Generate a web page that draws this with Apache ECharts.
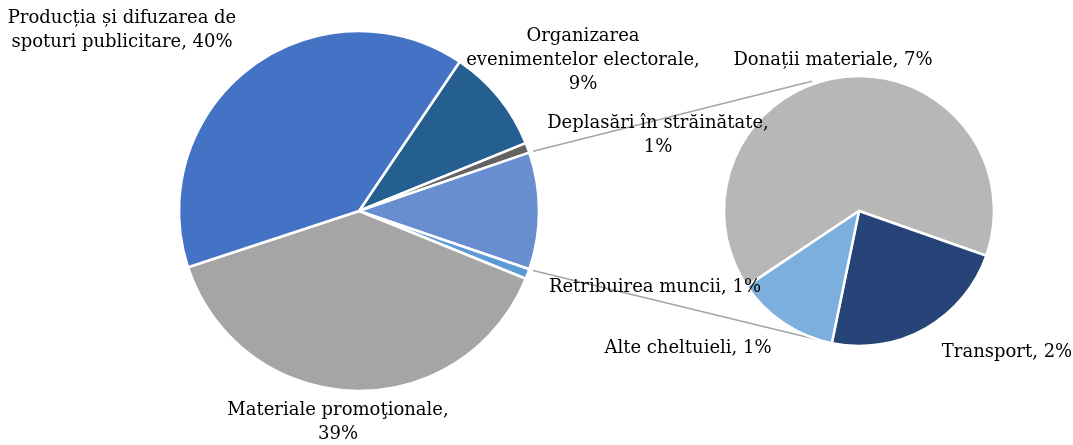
<!DOCTYPE html>
<html>
<head>
<meta charset="utf-8">
<script src="https://cdn.jsdelivr.net/npm/echarts@6/dist/echarts.min.js"></script>
<style>
html, body { margin: 0; padding: 0; background: #fff; }
#main { width: 1073px; height: 445px; }
</style>
</head>
<body>
<div id="main"></div>
<script>
// discul mare, in sensul acelor de ceas incepand de la "Organizarea..."
const mainNames = ['Organizarea evenimentelor electorale', 'Deplasări în străinătate', 'Altele', 'Retribuirea muncii', 'Materiale promoţionale', 'Producția și difuzarea de spoturi publicitare']
const mainValues = [9.4, 0.9, null, 0.9, 38.8, 39.5]
const mainColors = ['#255E91', '#636363', '#698ED0', '#5B9BD5', '#A5A5A5', '#4472C4']
// discul mic (detaliere pentru "Altele")
const subNames = ['Donații materiale', 'Transport', 'Alte cheltuieli']
const subValues = [6.8, 2.4, 1.3]
const subColors = ['#B7B7B7', '#264478', '#7CAFDD']

const otherIdx = 2
mainValues[otherIdx] = subValues.reduce((a, b) => a + b, 0)

// geometrie
const mainC = [359, 211], mainR = 180, mainStart = 56
const subC = [859, 211], subR = 135, subStart = 213.8

// text etichete (cu rupere de rand) si pozitii
const labelText = {
  'Organizarea evenimentelor electorale': 'Organizarea\nevenimentelor electorale,\n',
  'Deplasări în străinătate': 'Deplasări în străinătate,\n',
  'Retribuirea muncii': 'Retribuirea muncii, ',
  'Materiale promoţionale': 'Materiale promoţionale,\n',
  'Producția și difuzarea de spoturi publicitare': 'Producția și difuzarea de\nspoturi publicitare, ',
  'Donații materiale': 'Donații materiale, ',
  'Transport': 'Transport, ',
  'Alte cheltuieli': 'Alte cheltuieli, '
}
const labelPos = {
  'Organizarea evenimentelor electorale': [583, 60],
  'Deplasări în străinătate': [658, 135],
  'Retribuirea muncii': [655, 287],
  'Materiale promoţionale': [338, 422],
  'Producția și difuzarea de spoturi publicitare': [122, 30],
  'Donații materiale': [833, 60],
  'Transport': [1007, 352],
  'Alte cheltuieli': [688, 348]
}

function fmt (p) {
  return labelText[p.name] + Math.round(p.value) + '%'
}
function layout (p) {
  const names = p.seriesIndex === 0 ? mainNames : subNames
  const pos = labelPos[names[p.dataIndex]]
  if (!pos) return {}
  return { x: pos[0], y: pos[1], align: 'center', verticalAlign: 'middle' }
}

function pt (c, r, deg) {
  const a = deg * Math.PI / 180
  return [c[0] + r * Math.sin(a), c[1] - r * Math.cos(a)]
}

// unghiurile feliei "Altele" (in grade, de la ora 12, sens orar)
const total = mainValues.reduce((a, b) => a + b, 0)
const before = mainValues.slice(0, otherIdx).reduce((a, b) => a + b, 0)
const a0 = (90 - mainStart) + before / total * 360
const a1 = a0 + mainValues[otherIdx] / total * 360
const p1 = pt(mainC, mainR + 4, a0)
const p2 = pt(subC, subR + 3, -20)
const p3 = pt(mainC, mainR + 4, a1)
const p4 = pt(subC, subR, 191)

const labelStyle = {
  show: true,
  position: 'outside',
  formatter: fmt,
  fontFamily: 'DejaVu Serif',
  fontSize: 18,
  lineHeight: 24,
  color: '#000',
  align: 'center',
  overflow: 'none',
  width: 400
}

let myChart = echarts.init(document.getElementById('main'))
myChart.setOption({
  animation: false,
  graphic: [
    { type: 'line', z: 0, shape: { x1: p1[0], y1: p1[1], x2: p2[0], y2: p2[1] }, style: { stroke: '#A5A5A5', lineWidth: 1.5 } },
    { type: 'line', z: 0, shape: { x1: p3[0], y1: p3[1], x2: p4[0], y2: p4[1] }, style: { stroke: '#A5A5A5', lineWidth: 1.5 } }
  ],
  series: [
    {
      type: 'pie',
      center: mainC,
      radius: mainR,
      startAngle: mainStart,
      clockwise: true,
      data: mainNames.map((n, i) => ({
        name: n,
        value: mainValues[i],
        itemStyle: { color: mainColors[i] },
        label: i === otherIdx ? { show: false } : undefined
      })),
      itemStyle: { borderColor: '#fff', borderWidth: 2.5 },
      label: labelStyle,
      labelLine: { show: false },
      labelLayout: layout,
      emphasis: { disabled: true }
    },
    {
      type: 'pie',
      center: subC,
      radius: subR,
      startAngle: subStart,
      clockwise: true,
      data: subNames.map((n, i) => ({
        name: n,
        value: subValues[i],
        itemStyle: { color: subColors[i] }
      })),
      itemStyle: { borderColor: '#fff', borderWidth: 2.5 },
      label: labelStyle,
      labelLine: { show: false },
      labelLayout: layout,
      emphasis: { disabled: true }
    }
  ]
})
</script>
</body>
</html>
